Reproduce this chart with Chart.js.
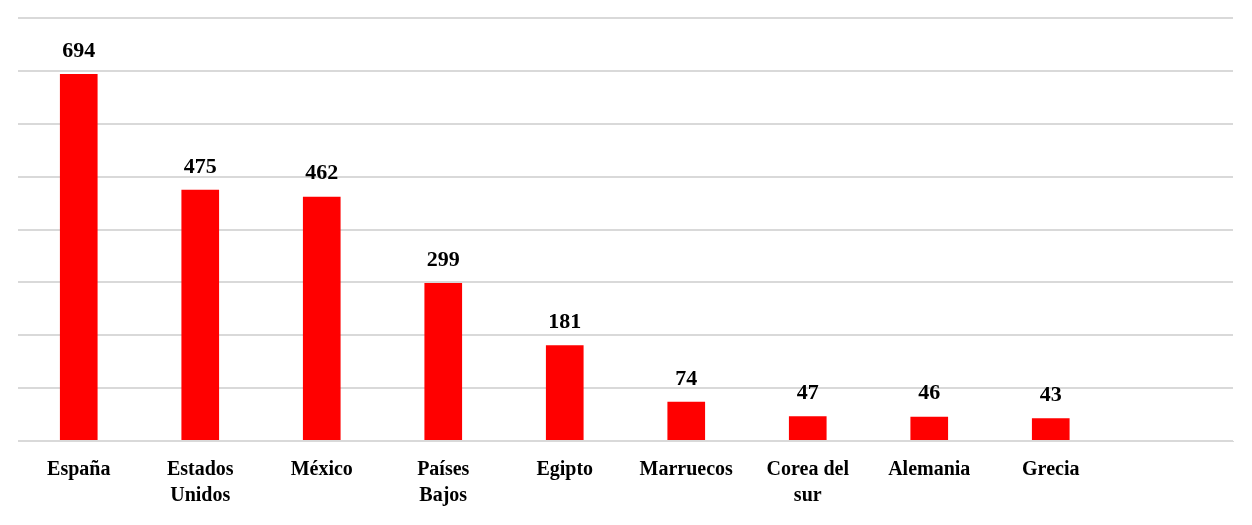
<!DOCTYPE html>
<html>
<head>
<meta charset="utf-8">
<script src="https://cdn.jsdelivr.net/npm/chart.js@4"></script>
<style>
  body { margin: 0; background: #fff; }
  #wrap { width: 1252px; height: 525px; }
</style>
</head>
<body>
<div id="wrap"><canvas id="myChart"></canvas></div>
<script>
const categories = ["España", ["Estados", "Unidos"], "México", ["Países", "Bajos"], "Egipto", "Marruecos", ["Corea del", "sur"], "Alemania", "Grecia", ""];
const values = [694, 475, 462, 299, 181, 74, 47, 46, 43, null];

// value labels above the bars
const topLabels = {
  id: "topLabels",
  afterDatasetsDraw(chart) {
    const c = chart.ctx;
    c.save();
    c.font = "bold 22px 'Liberation Serif', serif";
    c.fillStyle = "#000";
    c.textAlign = "center";
    c.textBaseline = "bottom";
    chart.getDatasetMeta(0).data.forEach((bar, i) => {
      if (values[i] == null) return;
      c.fillText(values[i], bar.x, bar.y - 12);
    });
    c.restore();
  }
};

new Chart(document.getElementById("myChart"), {
  type: "bar",
  data: {
    labels: categories,
    datasets: [{
      data: values,
      backgroundColor: "#ff0000",
      categoryPercentage: 1,
      barPercentage: 0.31
    }]
  },
  plugins: [topLabels],
  options: {
    responsive: true,
    maintainAspectRatio: false,
    animation: false,
    layout: { padding: { left: 18, right: 19, top: 18, bottom: 8 } },
    plugins: { legend: { display: false }, tooltip: { enabled: false } },
    scales: {
      x: {
        grid: { display: false },
        border: { color: "#d9d9d9" },
        ticks: {
          color: "#000",
          padding: 8,
          maxRotation: 0,
          autoSkip: false,
          font: { family: "'Liberation Serif', serif", size: 20, weight: "bold", lineHeight: 1.3 }
        }
      },
      y: {
        min: 0,
        max: 800,
        ticks: { display: false, stepSize: 100 },
        grid: { color: "#d9d9d9", lineWidth: 2, drawTicks: false },
        border: { display: false }
      }
    }
  }
});
</script>
</body>
</html>
